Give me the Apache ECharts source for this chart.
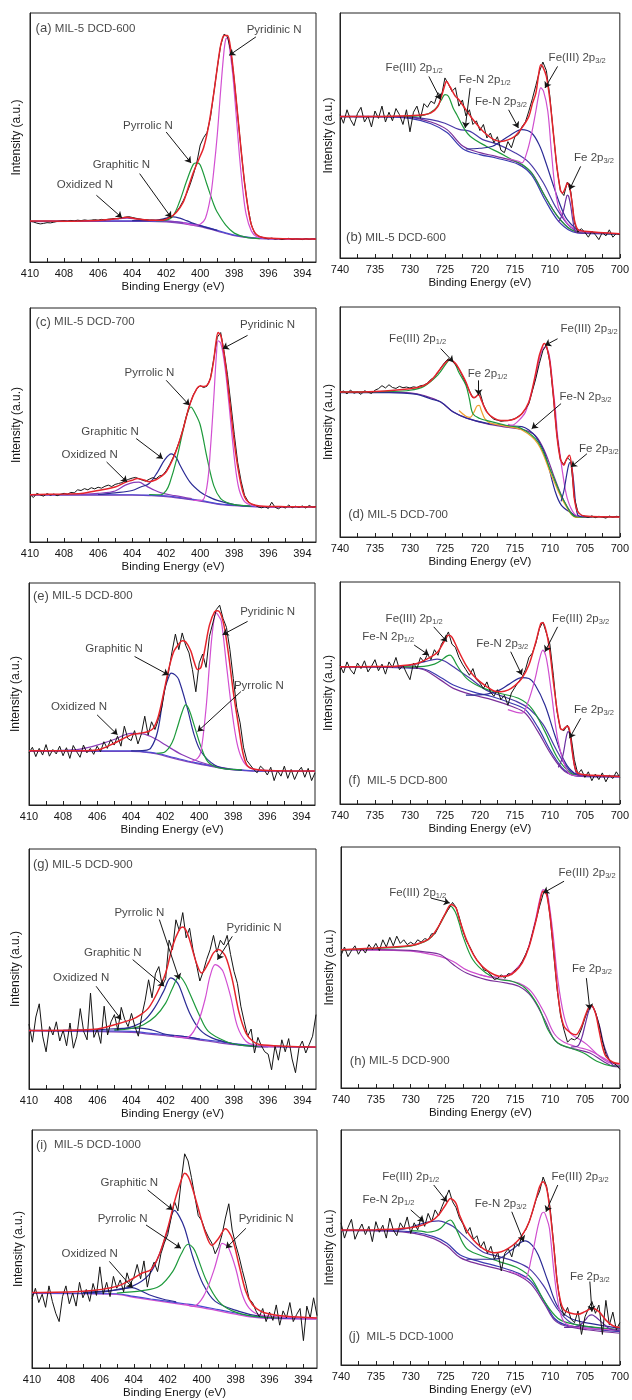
<!DOCTYPE html>
<html><head><meta charset="utf-8">
<script src="https://cdn.jsdelivr.net/npm/echarts@6/dist/echarts.min.js"></script>
<style>html,body{margin:0;padding:0;background:#fff}#c{width:632px;height:1400px}</style>
</head><body><div id="c"></div>
<script>
// ---------- energy grids & tick labels ----------
const N_GRID = [410,409.8,409.6,409.4,409.2,409,408.8,408.6,408.4,408.2,
408,407.8,407.6,407.4,407.2,407,406.8,406.6,406.4,406.2,
406,405.8,405.6,405.4,405.2,405,404.8,404.6,404.4,404.2,
404,403.8,403.6,403.4,403.2,403,402.8,402.6,402.4,402.2,
402,401.8,401.6,401.4,401.2,401,400.8,400.6,400.4,400.2,
400,399.8,399.6,399.4,399.2,399,398.8,398.6,398.4,398.2,
398,397.8,397.6,397.4,397.2,397,396.8,396.6,396.4,396.2,
396,395.8,395.6,395.4,395.2,395,394.8,394.6,394.4,394.2,
394,393.8,393.6,393.4,393.2];
const FE_GRID = [740,739.5,739,738.5,738,737.5,737,736.5,736,735.5,
735,734.5,734,733.5,733,732.5,732,731.5,731,730.5,
730,729.5,729,728.5,728,727.5,727,726.5,726,725.5,
725,724.5,724,723.5,723,722.5,722,721.5,721,720.5,
720,719.5,719,718.5,718,717.5,717,716.5,716,715.5,
715,714.5,714,713.5,713,712.5,712,711.5,711,710.5,
710,709.5,709,708.5,708,707.5,707,706.5,706,705.5,
705,704.5,704,703.5,703,702.5,702,701.5,701,700.5,700];
const N_LABELS = [410,408,406,404,402,400,398,396,394];
const N_TICKS = [410,409,408,407,406,405,404,403,402,401,400,399,398,397,396,395,394];
const FE_LABELS = [740,735,730,725,720,715,710,705,700];
const FE_TICKS = [740,737.5,735,732.5,730,727.5,725,722.5,720,717.5,715,712.5,710,707.5,705,702.5,700];

// ---------- (a) N 1s, DCD-600 ----------
const A_RAW = [16.4,16.1,15.6,15.3,15.5,15.8,15.7,16.0,16.3,16.5,
16.6,16.4,16.7,16.5,16.8,16.6,16.9,16.7,16.8,17.0,
16.8,17.1,16.9,17.2,17.3,17.5,17.4,17.8,18.0,18.2,
17.9,17.6,17.3,17.1,17.0,16.8,16.9,16.7,16.8,17.0,
17.3,17.9,18.8,20.2,22.1,24.6,27.5,31.0,35.2,40.0,
47.0,50.0,52.0,58.0,68.0,78.0,87.0,91.5,90.5,84.5,
73.0,59.0,45.0,32.0,22.0,15.0,11.5,10.5,10.0,9.6,
9.3,9.6,9.2,9.4,9.0,9.3,9.5,9.1,9.3,9.2,
9.0,9.4,9.1,9.3,9.2];
const A_FIT = [[410,16.5],[408,16.4],[406,16.7],[404.8,17.5],[404.3,18],[403.8,17.4],[403,16.8],[402.2,16.8],[401.8,17.8],[401.4,20],[401,24],[400.7,30],[400.4,36],[400.1,41],[399.8,46],[399.5,55],[399.2,68],[399,78],[398.8,87],[398.6,91],[398.4,91],[398.2,85],[398,73],[397.8,59],[397.6,45],[397.4,32],[397.2,22],[397,15],[396.7,11],[396.3,9.8],[395,9.3],[393.2,9.2]];
const A_PYRIDINIC = [[401,15.8],[400.3,14.8],[400,15.2],[399.7,17.5],[399.4,26],[399.2,37],[399,51],[398.8,69],[398.6,85],[398.5,89.5],[398.4,90],[398.3,87],[398.1,76],[397.9,60],[397.7,43],[397.5,29],[397.3,19],[397,12.5],[396.7,10.3],[396,9.4],[393.2,9.2]];
const A_PYRROLIC = [[402.6,16.6],[402,16.8],[401.6,18.5],[401.2,24.5],[400.8,32.5],[400.4,39.3],[400.2,39.8],[400,39],[399.6,31],[399.2,23],[399,20],[398.5,14.8],[398,11.6],[397.3,9.9],[396.5,9.4]];
const A_GRAPHITIC = [[404,16.6],[403,16.6],[402.4,17],[402,17.6],[401.6,18.1],[401.2,17.6],[400.8,16.6],[400.4,15.5],[400,14.6],[399.5,13.6],[399,12.7]];
const A_OXIDIZED = [[407,16.5],[406,16.6],[405.3,17],[404.8,17.4],[404.3,17.6],[403.7,17.2],[403,16.8],[402.3,16.6],[401.5,16.2],[401,15.8]];
const A_BG = [[410,16.4],[406,16.5],[403,16.5],[402,16.4],[401,15.8],[400,14.6],[399,12.7],[398,10.8],[397,9.8],[396,9.4],[393.2,9.2]];
const A_BG2 = [[410,16.2],[406,16.3],[403,16.3],[402,16.1],[401,15.4],[400,14.2],[399,12.4],[398,10.6],[397,9.7],[396,9.3],[393.2,9.1]];

// ---------- (c) N 1s, DCD-700 ----------
const C_RAW = [20.3,19.0,20.8,20.1,19.6,20.7,20.0,20.5,19.8,20.4,
20.8,20.4,21.2,21.0,22.3,22.0,22.8,22.3,23.2,22.7,
23.4,23.0,23.8,24.3,23.7,24.6,25.0,25.4,26.2,26.8,
27.3,27.6,27.0,26.4,26.0,26.8,27.5,27.0,28.2,28.6,
30.5,33.0,36.0,39.5,43.5,48.5,54.0,59.0,63.0,65.5,
66.8,66.0,66.6,70.0,78.5,87.5,89.5,81.5,71.5,59.0,
46.0,34.0,26.0,20.0,17.5,16.2,15.8,15.0,14.6,15.1,
14.3,17.0,14.8,14.2,15.2,14.5,15.8,14.6,15.3,14.8,
15.4,14.5,15.6,14.9,15.2];
const C_FIT = [[410,20.2],[408,20.5],[407,20.7],[406,22],[405,23.5],[404.4,25.5],[404,26.4],[403.7,27.1],[403.3,26.5],[403,25.8],[402.6,26.6],[402.3,28],[402,30],[401.6,35.6],[401.3,41.3],[401,48.4],[400.6,59.1],[400.2,65.5],[400,66.7],[399.8,66.5],[399.6,67],[399.4,70],[399.2,78],[399.1,84],[398.95,89.5],[398.8,88.3],[398.7,85],[398.5,75],[398.3,62],[398.1,49],[397.9,37],[397.7,28],[397.5,21.5],[397.3,18],[397,16.3],[396.5,15.4],[395,15.1],[393.2,15]];
const C_PYRIDINIC = [[400.4,17.8],[399.9,17.8],[399.6,24],[399.4,40],[399.2,62],[399.05,80],[398.95,86],[398.8,85],[398.65,80],[398.5,72],[398.3,58],[398.1,43],[397.9,30],[397.7,22],[397.4,17.3],[397,15.7],[396.5,15.2],[395,15]];
const C_PYRROLIC = [[403,20.3],[402.3,20.2],[402,22],[401.8,25],[401.4,35],[401,48],[400.8,54],[400.55,57.7],[400.3,55],[400,50],[399.6,36],[399.2,24],[398.8,18.5],[398.4,16.8],[398,16],[397,15.3]];
const C_GRAPHITIC = [[406,20.3],[405,21],[404,22],[403.5,23.5],[403,25],[402.5,30],[402.1,35],[401.7,37.7],[401.4,36],[401.2,33],[400.6,25.6],[400,21.4],[399.5,19.3],[399,17.8],[398,16],[397,15.3]];
const C_OXIDIZED = [[407,20.4],[406,20.8],[405,21.8],[404.4,24.3],[403.9,25.5],[403.6,25.6],[403.2,24],[402.8,22.5],[402.3,21],[401.5,19.8],[400.5,18.5]];
const C_BG = [[410,20.2],[404,20.2],[403,20],[402,19.7],[401,18.8],[400,17.8],[399,16.4],[398,15.7],[397,15.2],[396,15],[393.2,15]];
const C_BG2 = [[410,20.0],[404,20.0],[403,19.8],[402,19.4],[401,18.5],[400,17.5],[399,16.2],[398,15.5],[397,15.1],[396,14.9],[393.2,14.9]];

// ---------- (e) N 1s, DCD-800 ----------
const E_RAW = [23.5,26.0,21.8,25.5,22.5,27.2,22.0,25.0,23.0,26.5,
22.2,25.8,21.0,26.8,24.0,21.5,27.0,23.5,25.5,22.8,
26.5,24.0,28.5,25.5,29.5,27.0,31.0,26.5,35.5,30.0,
29.0,33.5,27.5,32.0,40.0,31.5,37.5,34.0,38.5,44.0,
53.0,60.0,69.0,77.0,70.0,77.5,72.0,68.5,61.0,51.0,
64.0,68.0,62.0,76.0,82.0,88.0,90.0,84.0,80.0,70.0,
57.0,44.0,37.0,26.0,20.0,18.0,16.0,14.5,17.5,16.0,
13.5,17.0,11.0,15.5,13.0,17.5,12.0,16.0,11.5,15.0,
17.0,12.5,16.5,11.0,14.5];
const E_FIT = [[410,24.4],[408,24.4],[406,24.8],[405,27.8],[404,31.6],[403.5,32.3],[403,33.1],[402.7,34.5],[402.4,40],[402.1,50],[401.8,61],[401.5,69],[401.2,72.5],[401,74],[400.8,73.5],[400.5,69.5],[400.3,64.5],[400.1,61],[399.9,62],[399.7,69],[399.4,81],[399.1,87],[398.9,87.5],[398.6,82.7],[398.3,69],[398,51],[397.7,36],[397.45,24],[397.2,18],[396.8,16.2],[396,15.5],[393.2,15.3]];
const E_PYRIDINIC = [[400.5,19.5],[400.1,21],[399.9,24],[399.6,43.6],[399.4,63],[399.2,79.7],[399,86.5],[398.85,85],[398.7,82.7],[398.4,63],[398.1,43.6],[397.8,28.6],[397.5,21],[397.1,17],[396.5,15.8],[395,15.4]];
const E_PYRROLIC = [[402.5,23.3],[402,24],[401.6,28],[401.3,34.6],[401,42],[400.8,45.1],[400.6,43],[400.3,36],[399.9,26.3],[399.5,19.5],[399,17],[398.5,16.3],[397.5,15.8]];
const E_GRAPHITIC = [[404,24.4],[403.2,24.6],[402.85,25.6],[402.45,33],[402.06,51],[401.8,57.5],[401.65,59.4],[401.4,58.5],[401.2,56.4],[400.7,43.6],[400.3,31.6],[399.9,24.1],[399.1,18],[398.3,16.2],[397.5,15.6]];
const E_OXIDIZED = [[410,24.4],[408,24.6],[407,25.2],[406,27],[405,29.5],[404,32.3],[403.3,32],[402.5,29.5],[402,27.1],[401,22.6],[400,19.5],[399,17.4],[398,16]];
const E_BG = [[410,24.4],[404,24.4],[403.5,24.2],[402.5,23.3],[401.5,21.4],[400.5,19.5],[399.5,18],[398.5,16.5],[397.5,15.8],[396.5,15.3],[393.2,15.3]];
const E_BG2 = [[410,24.2],[404,24.2],[403.5,24],[402.5,23],[401.5,21],[400.5,19.2],[399.5,17.7],[398.5,16.3],[397.5,15.6],[396.5,15.2],[393.2,15.2]];

// ---------- (g) N 1s, DCD-900 ----------
const G_RAW = [27.0,19.5,30.0,35.5,22.0,15.5,26.0,22.5,28.0,20.0,
24.5,18.0,27.5,17.0,22.0,33.5,24.0,20.5,40.0,21.5,
25.0,19.0,34.5,22.5,28.0,31.0,24.5,34.0,29.0,26.0,
31.5,26.0,22.0,30.5,37.0,45.5,38.0,48.0,51.0,43.0,
46.0,62.0,58.0,70.5,66.0,73.5,63.0,67.0,58.0,52.0,
45.0,49.0,54.0,58.0,64.0,57.0,62.0,60.0,64.0,56.0,
49.0,44.0,34.5,28.0,22.0,25.0,15.0,21.5,18.0,15.5,
14.5,8.0,18.0,12.0,20.5,15.5,21.0,12.5,6.8,17.0,
20.0,15.0,18.5,22.0,31.0];
const G_FIT = [[410,24.4],[407,24.6],[406,25],[405,26.8],[404,28.9],[403.5,30.8],[403,33.8],[402.5,40],[402,48.3],[401.6,59.4],[401.2,66.4],[401,67.5],[400.8,66],[400.6,62.2],[400.2,52.5],[399.9,48.3],[399.5,52.5],[399.2,56.7],[398.9,58.1],[398.5,55.3],[398.1,45.6],[397.7,31.7],[397.3,23.3],[396.9,19.9],[396.5,18.5],[395,17.8],[393.2,17.5]];
const G_PYRIDINIC = [[401.5,22],[400.8,21.3],[400.2,26.1],[399.7,37.2],[399.4,47],[399.1,51.8],[398.8,50.5],[398.6,48.3],[398.2,38.6],[397.8,26.1],[397.3,19.9],[396.7,18.2],[395.5,17.8]];
const G_PYRROLIC = [[405,24.6],[404,25.2],[403.3,26.8],[402.6,30.3],[402,35.8],[401.6,42],[401.2,46.9],[400.9,44.5],[400.6,40],[400,30.3],[399.5,24],[398.5,19.9],[397.6,18.3],[396.5,17.8]];
const G_GRAPHITIC = [[405,24.5],[403.9,26.1],[403.2,28.9],[402.6,34.4],[402.1,41],[401.7,46.3],[401.4,45],[401.2,42.8],[400.6,31.7],[400,24.7],[399.3,21.3],[398.1,18.9],[397,17.9],[396,17.6]];
const G_OXIDIZED = [[408,24.4],[406,24.7],[404.5,25.3],[403.5,25.4],[402.8,24.6],[402,22.8],[401,21.9],[400,20.8]];
const G_BG = [[410,24.4],[404,24.0],[403,23.3],[402,22.6],[401,21.9],[400,20.8],[399,19.9],[398,18.9],[397,18.1],[396,17.8],[393.2,17.5]];
const G_BG2 = [[410,24.2],[404,23.6],[403,22.9],[402,22.2],[401,21.4],[400,20.4],[399,19.4],[398,18.5],[397,17.8],[396,17.5],[393.2,17.3]];

// ---------- (i) N 1s, DCD-1000 ----------
const I_RAW = [29.0,33.5,27.5,31.0,25.5,34.5,28.0,23.0,19.5,30.0,
34.5,27.0,31.5,26.0,36.0,29.5,33.0,28.0,35.5,30.5,
42.5,31.0,36.0,30.0,38.5,33.5,37.0,32.0,40.0,35.5,
38.0,43.5,37.5,45.0,34.0,41.0,44.5,40.5,48.0,52.5,
56.0,63.0,70.0,66.0,79.0,90.0,87.0,80.0,72.0,64.0,
62.0,58.0,55.0,52.5,48.0,51.0,56.0,63.0,69.0,58.0,
52.0,47.0,41.0,35.5,29.0,27.5,24.0,21.5,25.0,19.5,
23.5,20.0,26.5,18.0,24.0,21.0,27.5,19.5,22.5,25.0,
11.5,26.0,21.0,29.5,22.0];
const I_FIT = [[410,31.7],[407,32.2],[405,34.3],[404,37.8],[403.5,39.9],[403,41.3],[402.5,47.6],[402,58.7],[401.6,69.9],[401.2,79],[401,81.8],[400.8,80.5],[400.6,76.9],[400.2,67.1],[399.8,57.3],[399.4,51.5],[399,54.5],[398.6,58.5],[398.2,54.5],[397.8,43.4],[397.4,32.2],[397,26.6],[396.5,23.8],[396,22.7],[395,21.7],[393.2,21]];
const I_PYRIDINIC = [[401,27],[400.5,25.9],[399.9,30],[399.3,40.6],[399,48],[398.8,52.4],[398.6,51.8],[398.4,50.3],[398,42],[397.6,30.8],[397.2,25.2],[396.6,22.4],[395.5,21.5],[393.2,20.8]];
const I_PYRROLIC = [[405,31.5],[403.5,32.5],[402.5,34.3],[401.7,40.6],[401.2,48],[400.8,52],[400.5,50.5],[400.3,47.6],[399.7,36.4],[399,28],[398.2,24],[397,21.8],[395.5,21.2]];
const I_GRAPHITIC = [[407,31.8],[405.4,32.5],[404.1,34.3],[403.1,39.2],[402.5,47.6],[402,58],[401.6,66.2],[401.3,63.5],[401,58.7],[400.5,46.2],[399.9,35],[399.2,28],[397.8,23.8],[396.6,21.8],[395,21]];
const I_OXIDIZED = [[407,31.6],[405.5,32.2],[404.6,33.5],[404.1,33.8],[403.6,32.5],[403.1,30.8],[402.3,29],[401.5,27.8]];
const I_BG = [[410,31.5],[405,31.2],[404,30.1],[403,29],[402,28],[401,27],[400,25.9],[399,24.5],[398,23.1],[397,21.7],[396,21],[393.2,20.7]];
const I_BG2 = [[410,31.3],[405,30.9],[404,29.7],[403,28.6],[402,27.6],[401,26.5],[400,25.4],[399,24.0],[398,22.6],[397,21.4],[396,20.8],[393.2,20.5]];

// ---------- (b) Fe 2p, DCD-600 ----------
const B_RAW = [58.5,55.0,60.5,56.5,54.0,59.0,61.5,55.5,58.0,53.5,
60.0,57.0,62.0,55.5,59.5,56.0,61.0,58.5,54.5,60.5,
51.5,59.5,62.0,57.0,63.0,61.5,64.0,63.0,67.5,66.0,
73.5,71.0,68.0,69.5,62.0,64.5,58.0,60.5,54.5,56.0,
52.0,54.5,49.0,51.0,47.0,49.5,44.0,43.0,47.5,45.0,
49.5,50.5,53.5,55.5,60.0,65.0,70.5,76.0,80.0,76.5,
66.0,51.0,37.0,27.5,25.5,31.0,27.0,14.5,10.5,12.0,
10.5,8.5,11.0,9.5,7.5,10.5,9.0,11.5,8.5,10.0,9.5];
const B_FIT = [[740,57.8],[735,57.8],[730,58.1],[728,58.5],[727,59.2],[726,61.9],[725.5,66],[725,70.7],[724.8,72.1],[724.3,70],[723.5,66],[723,64.6],[722,60.5],[721,56.5],[720,53.1],[719,50.3],[718,48.3],[717,47.6],[716,48.2],[715,49.7],[714,53.1],[713,57.8],[712.5,63],[712,67.3],[711.6,75],[711.3,78.9],[711,78],[710.5,74.1],[710,64.6],[709.5,51],[709,37.4],[708.5,27.9],[708.2,26.5],[707.8,28.5],[707.5,30.6],[707.2,29],[706.8,22],[706.5,15.6],[706,11.6],[705,10.9],[700,9.9]];
const B_FE3_12 = [[731,57.8],[728,58.3],[726.5,60.5],[725.5,64.5],[725,66.7],[724.5,66],[723.8,61],[723.3,58.5],[722.4,53.5],[721.4,49.7],[719.1,45.6],[717.2,42.9],[715.4,40.1],[714,38.3],[712.6,34.7],[710.7,25.2],[708.9,17],[707,11.6],[705,10.2],[700,9.9]];
const B_FEN_12 = [[738,57.7],[733,57.7],[730,57.5],[727,56.5],[725,55],[723,52.5],[721.4,51.7],[719.6,48.3],[717.7,46.7],[715,43],[713,39],[711,31],[709,20],[707,12.5],[705,10.3],[700,9.9]];
const B_FEN_32 = [[722,44.5],[720,44.8],[718.2,45.6],[715.9,49.7],[714,52.4],[712.6,51],[711.5,46],[710.7,40],[709.3,27.9],[708.3,20],[707.5,15.6],[706,11.6],[704,10.3],[700,9.9]];
const B_FE3_32 = [[716,40.5],[714.5,39.5],[714,38.8],[713.3,43],[712.6,51],[712,60],[711.6,66.5],[711.3,69.4],[710.9,68],[710.3,60],[709.8,44],[709.3,29.3],[708.8,21],[708.4,18.4],[707.5,14],[707,12.9],[706,11],[704,10.2]];
const B_FE_32 = [[708.8,14.7],[708.3,17],[708,20],[707.7,24],[707.5,25.7],[707.3,25],[707,21],[706.7,15],[706.3,10.7],[705.5,10.2],[704,10.1],[700,9.9]];
const B_BG = [[740,57.8],[735,57.8],[730,57.4],[727,55.5],[724.7,52.4],[722.4,45.6],[720,43],[717.7,41.5],[714.5,38.8],[712.6,34.7],[710.7,25.2],[708.9,17],[707,11.6],[705.1,10.2],[700,9.9]];
const B_BG2 = [[740,57.6],[735,57.6],[730,57.0],[727,54.8],[724.7,51.2],[722.4,44.5],[720,42.2],[717.7,40.8],[714.5,38.2],[712.6,33.8],[710.7,23.8],[708.9,15.5],[707,11],[705.1,10],[700,9.8]];

// ---------- (d) Fe 2p, DCD-700 ----------
const D_RAW = [62.8,63.5,62.2,63.9,62.5,63.1,62.0,63.6,63.0,62.4,
63.8,64.5,65.8,64.8,66.2,65.0,64.6,65.5,64.9,65.2,
64.8,65.3,65.0,65.8,66.0,67.0,68.5,69.5,71.5,74.0,
76.0,77.5,76.5,75.0,73.0,70.0,67.0,63.5,60.5,61.0,
63.0,57.5,54.5,52.5,51.2,50.8,50.3,50.5,50.6,51.0,
51.4,52.5,53.6,55.5,58.0,63.5,69.0,75.5,81.0,83.5,
76.0,61.0,44.5,33.5,31.5,34.5,33.0,17.0,11.0,9.5,
9.0,8.5,9.2,8.4,9.0,8.7,8.2,9.1,8.6,9.0,8.8];
const D_FIT = [[740,63],[735,63.3],[730,64.5],[728,65.9],[727,68],[726,71.7],[725,75.5],[724.3,77.2],[723.5,75.5],[723,73.2],[722,67.4],[721.3,62],[720.8,60.5],[720.2,62],[719.8,59.5],[719,54.3],[718,51.7],[717,50.7],[716,50.7],[715,51.4],[714,53.6],[713,58.7],[712.5,64.5],[712,71.7],[711.5,79],[711,83.3],[710.8,84.1],[710.4,82],[710,76.1],[709.5,61.6],[709,44.2],[708.5,34.1],[708,31.2],[707.7,33.3],[707.2,35.5],[706.8,28.3],[706.5,16.7],[706,10.9],[705,9.1],[700,8.7]];
const D_FE3_12 = [[740,63],[733,63.3],[730,63.8],[728,65.5],[726,70.5],[724.8,75.5],[724.3,77],[723.6,75.5],[723,71.5],[722,66],[721.5,60],[721,53.6],[720,51.5],[719.1,50.7],[716.3,48.6],[714,47.1],[711.7,41.3],[709.8,28.3],[707.9,15.2],[706.1,8.7],[700,8.6]];
const D_FE_12 = [[723,55],[722,52.5],[721.4,52],[720.9,54],[720.4,57],[720.1,57.2],[719.8,55],[719.3,51.5],[718.5,49.5],[716.3,48.2],[714,46.5],[711.7,40.5],[709.8,27],[707.9,14.5],[706.1,8.5],[700,8.5]];
const D_FE3_32 = [[716,49],[715.4,48.6],[714.5,50.5],[713.5,54.3],[712.8,61],[712.1,68.8],[711.6,76],[711.2,80.4],[710.7,82.6],[710.2,80.4],[709.9,75],[709.6,66],[709.2,55],[708.9,44.2],[708.5,35],[708.2,28.3],[707.5,16.7],[706.5,10.1],[705.5,9],[700,8.7]];
const D_FEN_32 = [[740,62.8],[733,62.8],[729,62],[727,60],[725.6,58.7],[723.8,54.3],[721.9,51.7],[719.1,49.5],[716.3,48.4],[714,48],[713,46.5],[712,43.5],[710.7,36],[709.3,20.4],[708.4,14],[707,10.5],[706,9],[700,8.7]];
const D_FE_32 = [[708.4,15.5],[708,20],[707.6,27],[707.3,31.5],[707.1,32.5],[706.9,31],[706.6,24],[706.3,14],[706,9.5],[705.5,8.8],[704,8.7]];
const D_BG = [[740,63],[733,63],[730,62.7],[728,61.5],[725.6,58.7],[723.8,54.3],[721.9,51.7],[719.1,49.3],[716.3,47.8],[714,46.8],[712.1,44.2],[710.7,37],[709.3,25.4],[707.9,15.2],[706.5,9.4],[705,8.7],[700,8.6]];

// ---------- (f) Fe 2p, DCD-800 ----------
const F_RAW = [62.5,59.0,64.0,60.5,58.5,63.5,61.0,64.5,59.5,62.0,
65.0,60.0,63.0,58.5,64.0,61.5,66.0,60.5,62.5,59.0,
56.0,63.5,61.0,66.0,64.0,67.5,65.0,69.5,67.0,72.0,
74.5,77.5,72.0,70.5,66.0,63.0,60.5,58.0,61.0,56.0,
54.5,52.0,55.0,50.5,48.5,51.5,47.0,49.0,44.5,50.0,
52.5,55.0,57.0,60.5,66.0,68.0,72.5,79.0,82.0,77.0,
72.0,58.0,42.0,34.0,33.0,35.5,31.0,20.0,13.5,15.5,
12.0,14.5,10.5,13.5,11.0,14.0,10.0,13.0,11.5,14.5,12.0];
const F_FIT = [[740,61.8],[735,61.9],[732,62.1],[729,63.3],[727,66.3],[726,68.6],[725,73.8],[724.5,76],[724,75.2],[723,68.6],[722,62.6],[721,58.1],[720,55.1],[719,52.8],[718,50.9],[717,50.6],[716,51.3],[715,53.3],[714,56.6],[713,62.6],[712,73.1],[711.3,81.3],[711,81.7],[710.5,77.5],[710,68.6],[709.5,55.1],[709,43.1],[708.5,34.1],[708.2,33.4],[707.8,34.5],[707.5,35],[707.2,33.5],[706.8,23.7],[706.4,16.2],[706,13.9],[705,13.2],[700,12.4]];
const F_FE3_12 = [[731,61.8],[728,62],[726.5,63],[725.6,64.5],[724.8,66.5],[724.25,67.1],[723.8,65.5],[723.3,62.6],[721.9,56.6],[720,52.8],[717.2,49.9],[714.5,47.6],[712.6,43.1],[710.7,32.6],[708.9,20.7],[707,13.9],[705.2,12.8],[700,12.4]];
const F_FEN_12 = [[733,61.8],[730.3,62.3],[728,64],[726.1,65.3],[725,64.3],[723.8,61.8],[721.4,56.6],[719.1,51.3],[717.2,49],[715,46.5],[713,43],[711,36],[709,24],[707,14.5],[705,12.7],[700,12.4]];
const F_FEN_32 = [[722,49],[719,49.5],[717.2,51.3],[715.8,54],[714,56.9],[713,56.5],[712.1,53.6],[710.7,44.6],[709.3,31.1],[707.9,19.2],[706.5,13.9],[705,12.8],[700,12.4]];
const F_FE3_32 = [[716,42.5],[714,40.9],[713.1,46.1],[712.1,56.6],[711.5,65],[711,69.3],[710.5,65.6],[709.8,50.6],[708.9,29.6],[707.9,17.7],[707,13.2],[705,12.6],[700,12.3]];
const F_FE_32 = [[708.8,16.5],[708.3,20],[708,24],[707.7,29.5],[707.4,32.6],[707.1,30.5],[706.8,24],[706.4,16],[706,13],[704,12.5],[700,12.3]];
const F_BG = [[740,61.8],[735,61.8],[730,61.5],[728,60.5],[725.6,55.8],[723.8,52.1],[721,49.1],[718.2,46.9],[715.4,43.9],[713.5,40.9],[711.7,32.6],[709.8,22.2],[707.9,14.7],[706,12.7],[700,12.4]];
const F_BG2 = [[740,61.6],[735,61.6],[730,61.2],[728,60.8],[725.6,57],[723.8,53.6],[721,50.5],[718.2,48.3],[715.4,45.3],[713.5,42.5],[711.7,34.5],[709.8,23.5],[707.9,15.2],[706,12.6],[700,12.2]];

// ---------- (h) Fe 2p, DCD-900 ----------
const H_RAW = [55.0,58.5,54.5,57.0,59.0,55.5,58.0,56.0,59.5,57.5,
60.0,57.0,61.5,58.5,62.5,59.0,63.0,60.0,61.5,59.5,
60.5,59.5,61.5,60.5,62.0,61.5,64.0,64.0,67.0,70.0,
72.5,74.5,77.0,75.0,70.5,65.0,61.0,58.5,55.5,53.0,
51.5,49.0,48.5,47.0,45.0,45.5,47.0,45.5,47.5,47.0,
49.0,50.0,52.5,55.5,59.0,64.5,70.0,75.5,80.5,82.0,
71.0,56.0,41.0,30.0,24.0,19.0,20.5,20.0,21.0,24.5,
29.0,33.0,34.5,31.5,26.5,19.5,14.0,11.5,10.5,9.5,7.8];
const H_FIT = [[740,57.4],[735,58.1],[730,59.1],[728,60.9],[727,62.9],[726,67.1],[725,72.6],[724.2,76.1],[723.5,74.7],[723,69.8],[722,61.5],[721,55.3],[720,51.2],[719,48.7],[718,47],[717,46.3],[716,46.6],[715,48.4],[714,51.9],[713,58.8],[712,69.8],[711.5,76.8],[711,81.6],[710.5,80.2],[710,71.2],[709.5,57.4],[709,42.2],[708.5,31.1],[708,25.6],[707,22.8],[706.3,22.1],[705.5,25.6],[705,29.7],[704.5,33.2],[704.1,34.2],[703.5,31.1],[703,24.2],[702.5,17.3],[702,13.1],[701,10.7],[700,10.1]];
const H_FE3_12 = [[740,57.2],[735,57.9],[730,58.9],[728,60.7],[727,62.7],[726,66.9],[725,72.2],[724.3,75.5],[723.6,73],[723,68],[722.5,62.9],[721.1,53.3],[719.2,47.7],[717.3,45],[715.5,44.3],[713.6,41.5],[711.7,33.9],[710.3,24.2],[708.9,18.7],[707.1,16.6],[705.2,14.5],[703.3,11.1],[701.4,9.3],[700,9.1]];
const H_FE3_32 = [[720,47],[718.3,46],[717,46.2],[715.5,47.7],[713.6,54.6],[712.2,68.5],[711.5,78],[711,82.3],[710.6,81.5],[710.3,79.5],[709.6,64.3],[708.9,45],[708,29.7],[707.1,22.8],[706.1,20.7],[704.7,18],[702.9,13.1],[701.4,10.4],[700,10]];
const H_FE_32 = [[707,17],[706.1,17.3],[705.5,20.5],[705,26],[704.4,32.5],[704,33.9],[703.6,32],[702.9,25.6],[702.4,19],[701.9,14.5],[701,9.5],[700,9]];
const H_BG = [[740,57.4],[735,57.4],[730,57.1],[728,56.5],[725.7,55.3],[723.9,51.2],[722,47.7],[719.2,45],[716.4,43.6],[714.5,42.2],[712.7,38],[710.8,28.4],[709.4,20.1],[708,17.3],[706.1,15.9],[704.3,14.5],[702.4,11.1],[701,9],[700,8.8]];
const H_BG2 = [[740,57.2],[735,57.2],[730,56.8],[728,56],[725.7,54.5],[723.9,52.5],[722,49],[719.2,46.3],[716.4,44.8],[714.5,43.5],[712.7,40],[710.8,31],[709.4,22.5],[708,19],[706.1,17],[704.3,15.5],[702.4,12.5],[701,10.3],[700,9.9]];

// ---------- (j) Fe 2p, DCD-1000 ----------
const J_RAW = [60.5,54.0,58.5,62.0,53.5,57.0,60.0,55.5,59.0,52.5,
61.0,56.5,59.5,54.0,62.5,57.5,55.0,60.5,58.0,63.0,
56.0,60.5,57.5,63.0,59.0,64.5,61.0,66.0,63.5,67.5,
71.0,74.5,69.5,67.0,62.5,60.0,56.0,58.5,53.5,55.0,
50.0,52.5,47.5,50.5,45.0,48.0,40.0,47.5,49.5,46.0,
52.0,50.5,55.5,57.5,61.0,65.5,70.5,74.0,80.0,76.0,
67.0,52.0,36.0,25.5,21.0,24.5,19.5,18.0,23.0,13.0,
20.5,24.0,27.0,22.0,25.5,13.0,27.5,17.0,22.5,15.0,18.0];
const J_FIT = [[740,57.4],[735,57.6],[732,57.9],[729,58.9],[727,61.3],[726,63.8],[725,68.1],[724.3,70.9],[723.5,68.8],[723,63.8],[722,57.4],[721,53.2],[720,50.4],[719,48.5],[718,47.8],[717,48.2],[716,49.6],[715,51.8],[714,55.3],[713,61],[712,70.9],[711.5,75.9],[711,78],[710.5,75.2],[710,65.2],[709.5,51.1],[709,35.5],[708.5,27],[708,23.4],[707,22],[706,21.6],[705,22.7],[704,24.1],[703,22.7],[702,19.1],[701,16.7],[700,15.9]];
const J_FE3_12 = [[730,57.2],[728.5,57],[727.6,56.5],[726.5,57],[725.7,58.2],[724.8,61],[724.3,61.7],[723.8,60],[723.4,57.4],[722,49.6],[720.1,46.8],[717.3,44],[714.5,41.1],[712.7,36.9],[710.8,27],[708.9,19.9],[707.1,17.7],[704.3,16.3],[700,14.9]];
const J_FEN_12 = [[735,57.2],[731,57.8],[729.5,59.1],[728,60.5],[726,61.3],[725,60.6],[723.9,58.9],[722,53.9],[719.7,48.2],[717.3,46.1],[715,44],[713,41],[711,34],[709,24],[707,18],[704,16],[700,15]];
const J_FEN_32 = [[722,45],[719,45],[717.3,45.4],[715.5,49],[713.6,52.8],[712.6,51],[711.7,46.8],[710.3,35.5],[708.9,24.8],[707.1,19.9],[704.3,17.7],[700,15.6]];
const J_FE3_32 = [[716,40],[714.5,38.5],[713.6,36.9],[712.7,45.4],[711.7,59.6],[711.2,64.5],[710.9,65],[710.5,62.5],[710.1,58.2],[709.4,38.3],[708.7,24.1],[708,18.4],[706.6,16.3],[704,15.5],[700,14.8]];
const J_FE_32 = [[708,16],[706.1,16.3],[705,19],[704.5,20.8],[704,21.3],[703.5,20.5],[702.4,17.7],[701.5,15.5],[700,14.6]];
const J_BG = [[740,57.4],[733,57.2],[729.5,56.5],[726.7,54.6],[724.8,51.8],[722.9,46.8],[720.1,44],[717.3,41.8],[714.5,39],[712.7,35.5],[710.8,27],[709.4,19.9],[708,17.3],[704.7,15.6],[700,14.2]];
const J_BG2 = [[740,57.2],[733,57],[729.5,56],[726.7,53.8],[724.8,50.6],[722.9,45.7],[720.1,42.8],[717.3,40.8],[714.5,38],[712.7,34.3],[710.8,26],[709.4,19.2],[708,16.8],[704.7,15],[700,13.5]];

// ---------- styling / layout ----------
const FONT = '"Liberation Sans", Arial, Helvetica, sans-serif';
const COL = {raw:'#151515', fit:'#e5242c', pyd:'#d24fd2', pyr:'#1e9a3c', gra:'#2b2b95', ox:'#8a3cb8',
  bgA:'#4b4bd0', bgB:'#8a45b8', fe3:'#1e9a3c', fen12:'#4a3aa8', fen32:'#2b2b95', fe3b:'#cf4fcf',
  fe32:'#6a2fa0', fe12:'#f0a030', bgFe:'#7a2f9a', bgFe2:'#3a3ab0'};
function sub(b, s){ return '{t|' + b + '}{s|' + s + '}'; }
function txt(b){ return '{t|' + b + '}'; }

const PANELS = [
 {g:[30,13,286,249], kind:'N', raw:A_RAW, fit:A_FIT, cap:['(a)','MIL-5 DCD-600',409.7,93.7],
  curves:[[A_BG2,COL.bgB],[A_BG,COL.bgA],[A_OXIDIZED,COL.ox],[A_GRAPHITIC,COL.gra],[A_PYRROLIC,COL.pyr],[A_PYRIDINIC,COL.pyd]],
  notes:[[txt('Pyridinic N'),395.66,93.3,396.73,90.4,398.3,83],[txt('Pyrrolic N'),403.07,54.5,402.0,52.2,400.54,39.8],[txt('Graphitic N'),404.63,39.1,403.56,35.5,401.7,17.8],[txt('Oxidized N'),406.78,30.8,406.1,26.8,404.6,17.8]]},
 {g:[340,13,285,245], kind:'Fe', raw:B_RAW, fit:B_FIT, cap:['(b)','MIL-5 DCD-600',739.2,8.2],
  curves:[[B_BG2,COL.bgFe2],[B_BG,COL.bgFe],[B_FEN_12,COL.fen12],[B_FE3_12,COL.fe3],[B_FEN_32,COL.fen32],[B_FE3_32,COL.fe3b],[B_FE_32,COL.fe32]],
  notes:[[sub('Fe(III) 2p','1/2'),729.4,77.6,727.3,74.1,725.6,64.6],[sub('Fe-N 2p','1/2'),719.3,72.8,721.4,69.4,722.1,53.1],[sub('Fe-N 2p','3/2'),717,63.9,715.9,60.5,714.5,53.1],[sub('Fe(III) 2p','3/2'),706.1,81.6,708.9,78.2,710.7,69.4],[sub('Fe 2p','3/2'),703.7,40.8,705.6,37.4,707.2,27.9]]},
 {g:[30,308,286,234], kind:'N', raw:C_RAW, fit:C_FIT, cap:['(c)','MIL-5 DCD-700',409.7,94],
  curves:[[C_BG2,COL.bgB],[C_BG,COL.bgA],[C_OXIDIZED,COL.ox],[C_GRAPHITIC,COL.gra],[C_PYRROLIC,COL.pyr],[C_PYRIDINIC,COL.pyd]],
  notes:[[txt('Pyridinic N'),396.05,92.6,397.22,88.3,398.68,82.6],[txt('Pyrrolic N'),402.98,72.4,402.0,69.1,400.63,58.4],[txt('Graphitic N'),405.3,47,403.76,44.2,402.2,35.6],[txt('Oxidized N'),406.5,37.3,405.5,34.2,404.3,25.6]]},
 {g:[340,307,287,230], kind:'Fe', raw:D_RAW, fit:D_FIT, cap:['(d)','MIL-5 DCD-700',738.9,9.7],
  curves:[[D_BG,COL.bgFe],[D_FEN_32,COL.fen32],[D_FE_12,COL.fe12],[D_FE3_12,COL.fe3],[D_FE3_32,COL.fe3b],[D_FE_32,COL.fen32]],
  notes:[[sub('Fe(III) 2p','1/2'),728.9,86.2,725.6,81.9,723.8,76.1],[sub('Fe 2p','1/2'),718.9,71,720.2,68.1,720.2,61.6],[sub('Fe(III) 2p','3/2'),704.4,90.6,708.9,86.2,710.7,83.3],[sub('Fe-N 2p','3/2'),704.9,60.9,708.4,58,712.6,47.1],[sub('Fe 2p','3/2'),703,38.4,704.7,36.2,707,30.4]]},
 {g:[29,583,286,222], kind:'N', raw:E_RAW, fit:E_FIT, cap:['(e)','MIL-5 DCD-800',409.8,94],
  curves:[[E_BG2,COL.bgB],[E_BG,COL.bgA],[E_OXIDIZED,COL.ox],[E_GRAPHITIC,COL.gra],[E_PYRROLIC,COL.pyr],[E_PYRIDINIC,COL.pyd]],
  notes:[[txt('Pyridinic N'),395.98,87.2,397.16,82.7,398.63,76.7],[txt('Graphitic N'),405,70.4,403.8,66.9,401.8,58.6],[txt('Pyrrolic N'),396.5,53.8,397.55,51.1,400.1,33.1],[txt('Oxidized N'),407.06,44.4,406,40.6,404.8,31.6]]},
 {g:[340,582,286,222], kind:'Fe', raw:F_RAW, fit:F_FIT, cap:['(f)',' MIL-5 DCD-800',738.9,10.5],
  curves:[[F_BG2,COL.bgFe2],[F_BG,COL.bgFe],[F_FEN_12,COL.fen12],[F_FE3_12,COL.fe3],[F_FEN_32,COL.fen32],[F_FE3_32,COL.fe3b],[F_FE_32,COL.fe32]],
  notes:[[sub('Fe(III) 2p','1/2'),729.4,83.5,726.6,79.8,724.7,73.1],[sub('Fe-N 2p','1/2'),733.1,75.3,729.4,71.6,727.3,67.1],[sub('Fe-N 2p','3/2'),716.8,72.3,715.6,68.6,714,58.1],[sub('Fe(III) 2p','3/2'),705.6,83.5,708.9,79.8,710.7,68.6],[sub('Fe 2p','3/2'),703.7,42.4,705.6,38.6,707.2,29.6]]},
 {g:[29,849,287,240], kind:'N', raw:G_RAW, fit:G_FIT, cap:['(g)','MIL-5 DCD-900',409.8,93.5],
  curves:[[G_BG2,COL.bgB],[G_BG,COL.bgA],[G_OXIDIZED,COL.gra],[G_GRAPHITIC,COL.gra],[G_PYRROLIC,COL.pyr],[G_PYRIDINIC,COL.pyd]],
  notes:[[txt('Pyrrolic N'),403.54,73.6,402.37,70.6,401.2,45.6],[txt('Pyridinic N'),396.83,67.1,398.1,63.6,398.97,53.9],[txt('Graphitic N'),405.1,56.9,403.93,53.9,402.08,42.8],[txt('Oxidized N'),406.95,46.5,406.07,42.8,404.6,28.9]]},
 {g:[341,847,285,241], kind:'Fe', raw:H_RAW, fit:H_FIT, cap:['(h)','MIL-5 DCD-900',738.8,11.1],
  curves:[[H_BG2,COL.fe3b],[H_BG,COL.bgFe],[H_FE3_12,COL.fe3],[H_FE3_32,COL.fe3b],[H_FE_32,COL.fe32]],
  notes:[[sub('Fe(III) 2p','1/2'),729,80.9,727.1,78.8,724.4,76.8],[sub('Fe(III) 2p','3/2'),704.7,89.2,708,85.8,711,80.9],[sub('Fe 2p','3/2'),704,49.4,704.8,45.6,704.3,32.5]]},
 {g:[32,1130,285,238], kind:'N', raw:I_RAW, fit:I_FIT, cap:['(i)',' MIL-5 DCD-1000',409.8,93.7],
  curves:[[I_BG2,COL.pyd],[I_BG,COL.bgA],[I_OXIDIZED,COL.gra],[I_GRAPHITIC,COL.gra],[I_PYRROLIC,COL.pyr],[I_PYRIDINIC,COL.pyd]],
  notes:[[txt('Graphitic N'),404.26,77.9,403.18,74.8,401.71,66.4],[txt('Pyrrolic N'),404.66,62.7,403.28,60.1,401.22,50.3],[txt('Pyridinic N'),396.2,62.7,397.39,58.7,398.57,50.3],[txt('Oxidized N'),406.6,47.8,405.44,44.8,404.07,33.6]]},
 {g:[341,1130,285,235], kind:'Fe', raw:J_RAW, fit:J_FIT, cap:['(j)',' MIL-5 DCD-1000',739,12],
  curves:[[J_BG2,COL.bgFe],[J_BG,COL.bgFe2],[J_FEN_12,COL.fen12],[J_FE3_12,COL.fe3],[J_FEN_32,COL.fen32],[J_FE3_32,COL.fe3b],[J_FE_32,COL.fe32]],
  notes:[[sub('Fe(III) 2p','1/2'),730,80.1,726.7,76.6,724.8,69.5],[sub('Fe-N 2p','1/2'),733.2,70.2,730,66,728.1,61],[sub('Fe-N 2p','3/2'),717.1,68.4,715.5,65.2,713.8,52.5],[sub('Fe(III) 2p','3/2'),705.7,80.1,708.9,76.6,710.6,65.2],[sub('Fe 2p','3/2'),704.3,37.6,704.3,35.5,704,22.7]]}
];

const RICH = {
  t:{fontSize:11.5, color:'#151515', fontFamily:FONT},
  s:{fontSize:7.5, color:'#151515', fontFamily:FONT, padding:[6,0,0,0]},
  p:{fontSize:13, color:'#151515', fontFamily:FONT},
  c:{fontSize:11.5, color:'#151515', fontFamily:FONT}
};

const grids=[], xAxes=[], yAxes=[], series=[];
PANELS.forEach((p, gi) => {
  const isN = p.kind === 'N';
  const grid = p.g;
  grids.push({left:grid[0], top:grid[1], width:grid[2], height:grid[3], show:true, borderColor:'#222', borderWidth:1, containLabel:false});
  xAxes.push({gridIndex:gi, type:'value', inverse:true, min:isN?393.2:700, max:isN?410:740,
    axisLine:{show:true, onZero:false, lineStyle:{color:'#222', width:1}},
    axisTick:{show:true, inside:true, length:4, customValues:isN?N_TICKS:FE_TICKS, lineStyle:{color:'#222'}},
    axisLabel:{show:true, customValues:isN?N_LABELS:FE_LABELS, fontSize:11, margin:6, color:'#151515', fontFamily:FONT},
    splitLine:{show:false},
    name:'Binding Energy (eV)', nameLocation:'middle', nameGap:19,
    nameTextStyle:{fontSize:11.5, color:'#151515', fontFamily:FONT}});
  yAxes.push({gridIndex:gi, type:'value', min:0, max:100,
    axisLine:{show:true, onZero:false, lineStyle:{color:'#222', width:1}},
    axisTick:{show:false}, axisLabel:{show:false}, splitLine:{show:false},
    name:'Intensity (a.u.)', nameLocation:'middle', nameGap:isN?7:5,
    nameTextStyle:{fontSize:12, color:'#151515', fontFamily:FONT}});
  const base = {xAxisIndex:gi, yAxisIndex:gi, silent:true, animation:false};
  p.curves.forEach(c => {
    series.push(Object.assign({type:'line', data:c[0], symbol:'none', smooth:0.35,
      lineStyle:{color:c[1], width:1.2}}, base));
  });
  const grd = isN ? N_GRID : FE_GRID;
  series.push(Object.assign({type:'line', data:grd.map((x,i)=>[x, p.raw[i]]), symbol:'none',
    lineStyle:{color:COL.raw, width:1}}, base));
  series.push(Object.assign({type:'line', data:p.fit, symbol:'none', smooth:0.3,
    lineStyle:{color:COL.fit, width:1.5}}, base));
  series.push(Object.assign({type:'lines', coordinateSystem:'cartesian2d', symbol:['none','arrow'], symbolSize:6,
    lineStyle:{color:'#151515', width:1, opacity:1}, z:5,
    data:p.notes.map(n => ({coords:[[n[3],n[4]],[n[5],n[6]]]}))}, base));
  const labelData = p.notes.map(n => ({value:[n[1],n[2]],
    label:{show:true, position:'inside', formatter:n[0], rich:RICH}}));
  labelData.push({value:[p.cap[2], p.cap[3]], label:{show:true, position:'right', distance:0,
    formatter:'{p|' + p.cap[0] + '} {c|' + p.cap[1] + '}', rich:RICH}});
  series.push(Object.assign({type:'scatter', symbolSize:1, itemStyle:{color:'rgba(0,0,0,0)'}, z:6,
    data:labelData}, base));
});

const chart = echarts.init(document.getElementById('c'), null, {renderer:'canvas'});
chart.setOption({backgroundColor:'#ffffff', animation:false, textStyle:{fontFamily:FONT},
  grid:grids, xAxis:xAxes, yAxis:yAxes, series:series});
</script></body></html>
